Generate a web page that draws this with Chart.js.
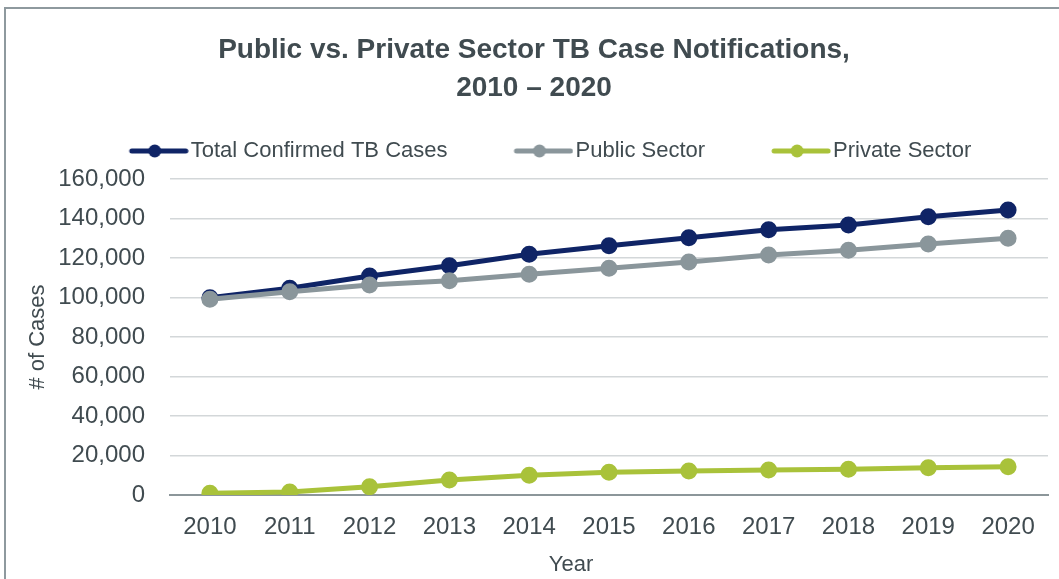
<!DOCTYPE html>
<html>
<head>
<meta charset="utf-8">
<script src="https://cdn.jsdelivr.net/npm/chart.js@4"></script>
<style>
  html, body { margin: 0; padding: 0; background: #fff; overflow: hidden; }
  #wrap { position: relative; width: 1059px; height: 579px; }
  #frame { position: absolute; left: 4px; top: 7px; width: 1100px; height: 600px;
    border-left: 2px solid #8e999e; border-top: 2px solid #8e999e; pointer-events: none; }
  canvas { position: absolute; left: 0; top: 0; }
</style>
</head>
<body>
<div id="wrap">
  <canvas id="tb-chart" width="1059" height="579"></canvas>
  <div id="frame"></div>
</div>
<script>
const years = ['2010', '2011', '2012', '2013', '2014', '2015', '2016', '2017', '2018', '2019', '2020'];
const totalCases = [99900, 104700, 110900, 116100, 121900, 126200, 130300, 134300, 136700, 140900, 144300];
const publicSector = [99100, 102900, 106300, 108500, 111800, 114800, 118000, 121500, 123900, 127100, 130000];
const privateSector = [900, 1500, 4200, 7600, 10000, 11500, 12200, 12700, 13000, 13800, 14300];
const seriesNames = ['Total Confirmed TB Cases', 'Public Sector', 'Private Sector'];
const yMin = 0;
const yMax = 160000;
const yStep = 20000;

const textColor = '#404b50';
const colors = ['#0f2466', '#8a969b', '#a9c23a'];

// legend icon: short line with a dot, drawn into a canvas used as pointStyle
const makeLegendIcon = color => {
  const c = document.createElement('canvas');
  c.width = 125;
  c.height = 16;
  const ctx = c.getContext('2d');
  ctx.strokeStyle = color;
  ctx.lineWidth = 5;
  ctx.lineCap = 'round';
  ctx.beginPath();
  ctx.moveTo(c.width - 57, 8);
  ctx.lineTo(c.width - 3, 8);
  ctx.stroke();
  ctx.fillStyle = color;
  ctx.beginPath();
  ctx.arc(c.width - 34, 8, 6.5, 0, Math.PI * 2);
  ctx.fill();
  return c;
};
const legendIcons = colors.map(makeLegendIcon);

// nudge legend to where the original sits, and draw the moved "Year" title
const layoutTweaks = {
  id: 'layoutTweaks',
  afterLayout(chart) {
    const lg = chart.legend;
    lg.left -= 12;
    lg.right -= 12;
    lg.top -= 7;
    lg.bottom -= 7;
  },
  afterDraw(chart) {
    const ctx = chart.ctx;
    ctx.save();
    ctx.font = '22px "Liberation Sans", Arial, sans-serif';
    ctx.fillStyle = textColor;
    ctx.textAlign = 'center';
    ctx.textBaseline = 'middle';
    ctx.fillText('Year', 571, 565);
    ctx.restore();
  }
};

const makeDataset = (i, values, order) => ({
  label: seriesNames[i],
  data: values,
  borderColor: colors[i],
  backgroundColor: colors[i],
  pointBackgroundColor: colors[i],
  pointBorderColor: colors[i],
  borderWidth: 5,
  pointRadius: 6,
  pointHoverRadius: 6,
  tension: 0,
  order: order
});

new Chart(document.getElementById('tb-chart'), {
  type: 'line',
  data: {
    labels: years,
    datasets: [
      makeDataset(0, totalCases, 2),
      makeDataset(1, publicSector, 1),
      makeDataset(2, privateSector, 0)
    ]
  },
  options: {
    responsive: false,
    animation: false,
    layout: { padding: { top: 10, left: 20, right: 11, bottom: 0 } },
    plugins: {
      title: {
        display: true,
        text: ['Public vs. Private Sector TB Case Notifications,', '2010 \u2013 2020'],
        color: textColor,
        font: { family: '"Liberation Sans", Arial, sans-serif', size: 28, weight: 'bold', lineHeight: 38 / 28 },
        padding: { top: 21, bottom: 30 }
      },
      legend: {
        display: true,
        position: 'top',
        labels: {
          usePointStyle: true,
          pointStyleWidth: 107,
          padding: 10,
          color: textColor,
          font: { family: '"Liberation Sans", Arial, sans-serif', size: 22 },
          sort: (a, b) => a.datasetIndex - b.datasetIndex,
          generateLabels: chart => Chart.defaults.plugins.legend.labels.generateLabels(chart)
            .map(item => Object.assign(item, { pointStyle: legendIcons[item.datasetIndex] }))
        }
      },
      tooltip: { enabled: false }
    },
    scales: {
      x: {
        offset: true,
        grid: { display: false, drawTicks: false },
        border: { display: true, color: '#8c969a', width: 2 },
        ticks: {
          color: textColor,
          padding: 18,
          autoSkip: false,
          maxRotation: 0,
          font: { family: '"Liberation Sans", Arial, sans-serif', size: 24 }
        },
        afterFit: scale => { scale.height = 84; }
      },
      y: {
        min: yMin,
        max: yMax,
        grid: { color: '#d3d7d9', lineWidth: 1.5, drawTicks: false },
        border: { display: false },
        ticks: {
          stepSize: yStep,
          color: textColor,
          padding: 25,
          font: { family: '"Liberation Sans", Arial, sans-serif', size: 24 },
          callback: v => v.toLocaleString('en-US')
        },
        title: {
          display: true,
          text: '# of Cases',
          color: textColor,
          padding: { top: 5, bottom: 0 },
          font: { family: '"Liberation Sans", Arial, sans-serif', size: 22 }
        },
        afterFit: scale => { scale.width = 150; }
      }
    }
  },
  plugins: [layoutTweaks]
});
</script>
</body>
</html>
